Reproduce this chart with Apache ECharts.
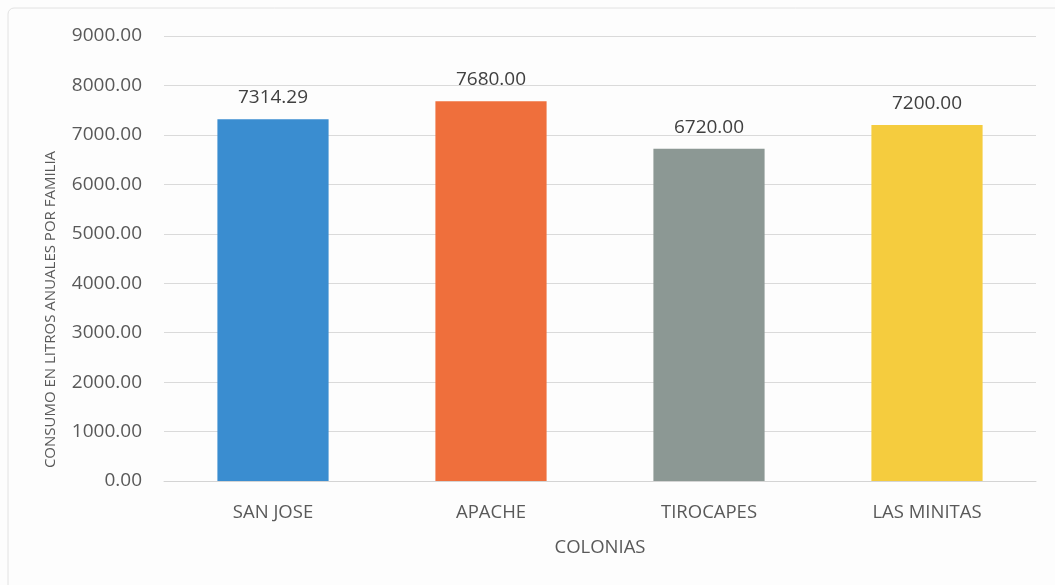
<!DOCTYPE html>
<html>
<head>
<meta charset="utf-8">
<script src="https://cdn.jsdelivr.net/npm/echarts@6/dist/echarts.min.js"></script>
<style>
  html, body { margin: 0; padding: 0; background: #fdfdfd; }
  #chart { width: 1055px; height: 585px; }
</style>
</head>
<body>
<div id="chart"></div>
<script>
// Consumo anual por familia en cada colonia
const colonias = ['SAN JOSE', 'APACHE', 'TIROCAPES', 'LAS MINITAS'];
const consumo = [7314.29, 7680.00, 6720.00, 7200.00];
const coloresBarras = ['#3a8dd0', '#ef6f3c', '#8c9894', '#f5cc3e'];
const yTicks = { min: 0, max: 9000, interval: 1000 };

const chart = echarts.init(document.getElementById('chart'));
const fontFam = '"Open Sans", "Noto Sans", sans-serif';

chart.setOption({
  backgroundColor: '#fdfdfd',
  animation: false,
  graphic: [{
    type: 'rect',
    shape: { x: 8, y: 8, width: 1060, height: 600, r: 6 },
    style: { fill: 'none', stroke: '#e2e2e2', lineWidth: 1 },
    silent: true
  }],
  grid: { left: 164, right: 19, top: 36, bottom: 104 },
  xAxis: {
    type: 'category',
    data: colonias,
    name: 'COLONIAS',
    nameLocation: 'middle',
    nameGap: 57,
    nameTextStyle: { color: '#595959', fontSize: 18.5, fontFamily: fontFam },
    axisLine: { lineStyle: { color: '#d4d4d4' } },
    axisTick: { show: false },
    axisLabel: { color: '#595959', fontSize: 18.5, fontFamily: fontFam, margin: 22 }
  },
  yAxis: {
    type: 'value',
    min: yTicks.min,
    max: yTicks.max,
    interval: yTicks.interval,
    name: 'CONSUMO EN LITROS ANUALES POR FAMILIA',
    nameLocation: 'middle',
    nameGap: 106,
    nameTextStyle: {
      color: '#595959', fontSize: 15, fontFamily: fontFam,
      padding: [0, 102, 0, 0]
    },
    axisLine: { show: false },
    axisTick: { show: false },
    axisLabel: {
      color: '#595959', fontSize: 19, fontFamily: fontFam, margin: 22,
      formatter: v => v.toFixed(2)
    },
    splitLine: { lineStyle: { color: '#dadada', width: 1 } }
  },
  series: [{
    type: 'bar',
    data: consumo.map((v, i) => ({ value: v, itemStyle: { color: coloresBarras[i] } })),
    barWidth: '51%',
    label: {
      show: true,
      position: 'top',
      distance: 12,
      color: '#404040',
      fontSize: 19,
      fontFamily: fontFam,
      formatter: p => p.value.toFixed(2)
    }
  }]
});
</script>
</body>
</html>
